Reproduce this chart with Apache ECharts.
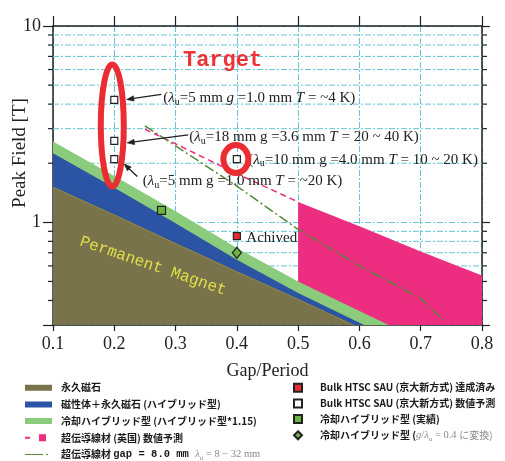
<!DOCTYPE html>
<html>
<head>
<meta charset="utf-8">
<script src="https://cdn.jsdelivr.net/npm/echarts@6/dist/echarts.min.js"></script>
<style>
  html, body { margin: 0; padding: 0; background: #fff; }
  #chart { width: 505px; height: 461px; }
</style>
</head>
<body>
<div id="chart"></div>
<script>
// ---- field limits vs. gap/period ----
const gapRatio        = [0.1, 0.2, 0.3, 0.4, 0.5, 0.6, 0.7];
const permanentMagnet = [1.51, 1.09, 0.78, 0.56, 0.405, 0.29, 0.21];
const hybridMagnet    = [2.25, 1.50, 0.99, 0.645, 0.436, 0.308, 0.22];
const cooledHybrid    = [2.58, 1.72, 1.14, 0.74, 0.50, 0.354, 0.25];

// superconducting wire (UK) prediction
const ukGap           = [0.5, 0.6, 0.7, 0.8];
const ukPredicted     = [1.27, 0.955, 0.71, 0.536];
const ukTrendGap      = [0.25, 0.3, 0.4, 0.5];
const ukTrend         = [2.98, 2.51, 1.77, 1.27];

// superconducting wire, gap 8 mm
const wireGap         = [0.25, 0.3, 0.4, 0.5, 0.6, 0.7, 0.74];
const wireField       = [3.10, 2.45, 1.53, 0.92, 0.60, 0.41, 0.31];

// individual results
const htscAchievedGap    = [0.4];
const htscAchieved       = [0.85];
const htscPredictedGap   = [0.2, 0.2, 0.2, 0.4];
const htscPredicted      = [4.2, 2.6, 2.1, 2.1];
const cooledMeasuredGap  = [0.277];
const cooledMeasured     = [1.15];
const cooledConvertedGap = [0.4];
const cooledConverted    = [0.70];

// axis ticks
const xTickValues   = [0.1, 0.2, 0.3, 0.4, 0.5, 0.6, 0.7, 0.8];
const yTickLabels   = ['1', '10'];
const yMinorValues  = [0.4, 0.5, 0.6, 0.7, 0.8, 0.9, 2, 3, 4, 5, 6, 7, 8, 9];

const PINK = '#ec2d80', OLIVE = '#78734a', BLUE = '#2c54a4', LGREEN = '#8acb7c',
      DGREEN = '#55883a', MGREEN = '#6cb33f', RED = '#ea2d33', CYAN = '#63c5d5', INK = '#222';
const SERIF = '"Liberation Serif", "Times New Roman", serif';
const CJK = '"Noto Sans CJK JP", sans-serif';
const GRID_DASH = [6, 2, 2, 2];

const zip = (xs, ys) => xs.map((x, i) => [x, ys[i]]);

const NAME = {
  pm: '永久磁石',
  hy: '磁性体＋永久磁石 (ハイブリッド型)',
  ch: '冷却ハイブリッド型 (ハイブリッド型*1.15)',
  uk: '超伝導線材 (英国) 数値予測',
  wire: '超伝導線材 gap = 8.0 mm λu = 8 − 32 mm',
  ach: 'Bulk HTSC SAU (京大新方式) 達成済み',
  pred: 'Bulk HTSC SAU (京大新方式) 数値予測',
  meas: '冷却ハイブリッド型 (実績)',
  conv: '冷却ハイブリッド型 (g/λu = 0.4 に変換)'
};

const legendRich = {
  b:  { fontFamily: CJK, fontWeight: 'bold', fontSize: 10, color: '#1a1a1a', lineHeight: 14 },
  m:  { fontFamily: '"Liberation Mono", monospace', fontWeight: 'bold', fontSize: 10.5, color: '#1a1a1a', lineHeight: 14 },
  g:  { fontFamily: SERIF, fontSize: 10.5, color: '#8a8a8a', lineHeight: 14 },
  gi: { fontFamily: SERIF, fontStyle: 'italic', fontSize: 10.5, color: '#8a8a8a', lineHeight: 14 },
  gs: { fontFamily: SERIF, fontSize: 7, color: '#8a8a8a', lineHeight: 10, verticalAlign: 'bottom' },
  gj: { fontFamily: CJK, fontSize: 10, color: '#8a8a8a', lineHeight: 14 }
};
const legendText = {
  [NAME.wire]: '{b|超伝導線材 }{m|gap = 8.0 mm }{gi|λ}{gs|u}{g| = 8 − 32 mm}',
  [NAME.conv]: '{b|冷却ハイブリッド型 (}{gi|g}{g|/}{gi|λ}{gs|u}{g| = 0.4 }{gj|に変換)}'
};
const legendFormatter = name => legendText[name] || ('{b|' + name + '}');

// icons drawn in a 27 x 14 box (corner anchors keep the box unscaled)
const ANCHORS   = ' M0 0L0.1 0L0 0.1Z M27 14L26.9 14L27 13.9Z';
const BAR_ICON  = 'path://M0 4H27V10H0Z' + ANCHORS;
const PINK_ICON = 'path://M0 6H5V8H0Z M14 3.5H21V10.5H14Z' + ANCHORS;
const WIRE_ICON = 'path://M0 6.4H18V7.6H0Z M21 6.4H23V7.6H21Z' + ANCHORS;

const areaSeries = (name, xs, ys, color, z, edge) => ({
  name, type: 'line', data: zip(xs, ys), color, symbol: 'none', z, silent: true,
  lineStyle: edge ? { width: 1, color: edge } : { width: 0 },
  areaStyle: { color, opacity: 1, origin: 'start' }
});

const chart = echarts.init(document.getElementById('chart'));

chart.setOption({
  animation: false,
  backgroundColor: '#fff',
  grid: { left: 53, right: 23, top: 26, bottom: 136 },
  xAxis: [{
    type: 'value', min: 0.1, max: 0.8, interval: 0.1,
    name: 'Gap/Period', nameLocation: 'middle', nameGap: 37,
    nameTextStyle: { fontFamily: SERIF, fontSize: 18, color: INK },
    axisLine: { lineStyle: { color: INK, width: 1.5 } },
    axisTick: { length: 6, lineStyle: { color: INK, width: 1.2 } },
    axisLabel: { fontFamily: SERIF, fontSize: 18, color: INK, margin: 10,
      formatter: v => xTickValues.some(t => Math.abs(t - v) < 1e-6) ? v.toFixed(1) : '' },
    splitLine: { show: true, lineStyle: { color: CYAN, width: 1, type: GRID_DASH } }
  }, {
    type: 'value', position: 'top', min: 0.1, max: 0.8, interval: 0.1,
    axisLine: { lineStyle: { color: INK, width: 1.5 } },
    axisTick: { length: 10, lineStyle: { color: INK, width: 1.2 } },
    axisLabel: { show: false }, splitLine: { show: false }
  }],
  yAxis: [{
    type: 'log', logBase: 10, min: 0.3, max: 10,
    axisLine: { show: true, lineStyle: { color: INK, width: 1.5 } },
    axisTick: { show: true, length: 10, lineStyle: { color: INK, width: 1.2 } },
    axisLabel: { fontFamily: SERIF, fontSize: 18, color: INK, margin: 12,
      formatter: v => Math.abs(v - 1) < 1e-6 ? yTickLabels[0] : (Math.abs(v - 10) < 1e-6 ? yTickLabels[1] : '') },
    splitLine: { show: true, lineStyle: { color: CYAN, width: 1, type: GRID_DASH } },
    minorTick: { show: false }
  }, {
    type: 'log', logBase: 10, min: 0.3, max: 10, position: 'right',
    axisLine: { show: true, lineStyle: { color: INK, width: 1.5 } },
    axisTick: { show: true, length: 8, lineStyle: { color: INK, width: 1.2 } },
    axisLabel: { show: false }, splitLine: { show: false }
  }],
  legend: [{
    orient: 'vertical', left: 25, top: 380.7, height: 90, padding: 0,
    itemWidth: 27, itemHeight: 14, itemGap: 2.7, symbolKeepAspect: false, selectedMode: false,
    itemStyle: { borderWidth: 0 },
    textStyle: { padding: [0, 0, 0, 4], rich: legendRich },
    formatter: legendFormatter,
    data: [
      { name: NAME.pm, icon: BAR_ICON },
      { name: NAME.hy, icon: BAR_ICON },
      { name: NAME.ch, icon: BAR_ICON },
      { name: NAME.uk, icon: PINK_ICON },
      { name: NAME.wire, icon: WIRE_ICON }
    ]
  }, {
    orient: 'vertical', left: 293, top: 382.7, height: 80, padding: 0,
    itemWidth: 8, itemHeight: 8, itemGap: 5.7, selectedMode: false,
    textStyle: { padding: [0, 0, 0, 13], rich: legendRich },
    formatter: legendFormatter,
    data: [NAME.ach, NAME.pred, NAME.meas, NAME.conv]
  }],
  series: [
    areaSeries(NAME.uk, ukGap, ukPredicted, PINK, 2),
    areaSeries(NAME.ch, gapRatio, cooledHybrid, LGREEN, 3),
    areaSeries(NAME.hy, gapRatio, hybridMagnet, BLUE, 4),
    areaSeries(NAME.pm, gapRatio, permanentMagnet, OLIVE, 5, '#9c8b3c'),
    {
      name: NAME.uk, type: 'line', data: zip(ukTrendGap, ukTrend), color: PINK,
      symbol: 'none', z: 6, silent: true,
      lineStyle: { color: PINK, width: 1.5, type: [6, 4] }
    },
    {
      name: NAME.wire, type: 'line', data: zip(wireGap, wireField), color: DGREEN,
      symbol: 'none', z: 6, silent: true,
      lineStyle: { color: DGREEN, width: 1.5, type: [10, 3, 2, 3] }
    },
    {
      name: NAME.ach, type: 'scatter', data: zip(htscAchievedGap, htscAchieved), z: 7,
      symbol: 'rect', symbolSize: 7, itemStyle: { color: RED, borderColor: INK, borderWidth: 1.2, opacity: 1 }
    },
    {
      name: NAME.pred, type: 'scatter', data: zip(htscPredictedGap, htscPredicted), z: 7,
      symbol: 'rect', symbolSize: 7, itemStyle: { color: '#fff', borderColor: INK, borderWidth: 1.2, opacity: 1 }
    },
    {
      name: NAME.meas, type: 'scatter', data: zip(cooledMeasuredGap, cooledMeasured), z: 7,
      symbol: 'rect', symbolSize: 8, itemStyle: { color: MGREEN, borderColor: INK, borderWidth: 1.2, opacity: 1 }
    },
    {
      name: NAME.conv, type: 'scatter', data: zip(cooledConvertedGap, cooledConverted), z: 7,
      symbol: 'diamond', symbolSize: [9, 11], itemStyle: { color: MGREEN, borderColor: INK, borderWidth: 1.2, opacity: 1 }
    }
  ]
});

// ---- minor grid, minor ticks and annotations, placed through the axes ----
const P = (x, y) => chart.convertToPixel({ seriesIndex: 7 }, [x, y]);
const gx0 = chart.convertToPixel({ xAxisIndex: 0 }, 0.1);
const gx1 = chart.convertToPixel({ xAxisIndex: 0 }, 0.8);
const gy  = v => chart.convertToPixel({ yAxisIndex: 0 }, v);

const annRich = {
  n: { fontFamily: SERIF, fontSize: 15, fill: INK, lineHeight: 18 },
  i: { fontFamily: SERIF, fontStyle: 'italic', fontSize: 15, fill: INK, lineHeight: 18 },
  s: { fontFamily: SERIF, fontSize: 10, fill: INK, lineHeight: 12, verticalAlign: 'bottom' }
};
const label = (x, y, text) => ({
  type: 'text', x, y, z: 50,
  style: { text, rich: annRich, align: 'left', verticalAlign: 'middle' }
});
const arrow = (x1, y1, x2, y2) => {
  const a = Math.atan2(y2 - y1, x2 - x1), L = 7, W = 2.6;
  const bx = x2 - L * Math.cos(a), by = y2 - L * Math.sin(a);
  const nx = -Math.sin(a) * W, ny = Math.cos(a) * W;
  return [
    { type: 'line', z: 50, shape: { x1, y1, x2: bx, y2: by }, style: { stroke: INK, lineWidth: 1.3 } },
    { type: 'polygon', z: 50, shape: { points: [[x2, y2], [bx + nx, by + ny], [bx - nx, by - ny]] },
      style: { fill: INK, stroke: INK, lineWidth: 0.8 } }
  ];
};

const m1 = P(0.2, 4.2), m2 = P(0.2, 2.6), m3 = P(0.2, 2.1), m4 = P(0.4, 2.1), ach = P(0.4, 0.85);

const g = [];
yMinorValues.forEach(v => {
  const y = gy(v);
  // dashed grid line, kept beneath the filled regions
  g.push({ type: 'line', z: 1, silent: true, shape: { x1: gx0, y1: y, x2: gx1, y2: y },
           style: { stroke: CYAN, lineWidth: 1, lineDash: GRID_DASH } });
  g.push({ type: 'line', z: 40, shape: { x1: gx0 - 5, y1: y, x2: gx0, y2: y }, style: { stroke: INK, lineWidth: 1.2 } });
  g.push({ type: 'line', z: 40, shape: { x1: gx1, y1: y, x2: gx1 + 5, y2: y }, style: { stroke: INK, lineWidth: 1.2 } });
});

g.push(label(m1[0] + 49, m1[1] - 1.5, '{n|(}{i|λ}{s|u}{n|=5 mm }{i|g}{n| =1.0 mm }{i|T}{n| = ~4 K)}'));
g.push(...arrow(m1[0] + 47, m1[1] - 5.5, m1[0] + 12.5, m1[1] - 0.5));
g.push(label(m2[0] + 75, m2[1] - 3.5, '{n|(}{i|λ}{s|u}{n|=18 mm g =3.6 mm }{i|T}{n| = 20 ~ 40 K)}'));
g.push(...arrow(m2[0] + 74, m2[1] - 6, m2[0] + 13, m2[1] + 2));
g.push(label(m3[0] + 28.5, m3[1] + 22, '{n|(}{i|λ}{s|u}{n|=5 mm g =1.0 mm }{i|T}{n| = ~20 K)}'));
g.push(...arrow(m3[0] + 23, m3[1] + 17.5, m3[0] + 10, m3[1] + 5));
g.push(label(m4[0] + 11.5, m4[1] + 0.5, '{n|(}{i|λ}{s|u}{n|=10 mm g =4.0 mm }{i|T}{n| = 10 ~ 20 K)}'));
g.push(label(ach[0] + 9.5, ach[1] + 1.5, '{n|Achived}'));

// red highlight rings
g.push({ type: 'ellipse', z: 60,
  shape: { cx: m1[0] - 2, cy: (m1[1] + m3[1]) / 2 - 4, rx: 11.5, ry: 61 },
  style: { fill: 'none', stroke: RED, lineWidth: 6 } });
g.push({ type: 'ellipse', z: 60,
  shape: { cx: m4[0] - 1, cy: m4[1], rx: 12.5, ry: 14 },
  style: { fill: 'none', stroke: RED, lineWidth: 6 } });

g.push({ type: 'text', x: 183, y: 60, z: 60,
  style: { text: 'Target', fill: '#ee3338', font: 'bold 22px "Liberation Mono", monospace',
           align: 'left', verticalAlign: 'middle' } });

g.push({ type: 'text', x: 153, y: 266, z: 60, rotation: -0.33,
  style: { text: 'Permanent Magnet', fill: '#e3df4a', font: '16px "Liberation Mono", monospace',
           align: 'center', verticalAlign: 'middle' } });

g.push({ type: 'text', x: 20, y: 153, z: 60, rotation: Math.PI / 2,
  style: { text: 'Peak Field [T]', fill: INK, font: '19px ' + SERIF,
           align: 'center', verticalAlign: 'middle' } });

chart.setOption({ graphic: g });
</script>
</body>
</html>
